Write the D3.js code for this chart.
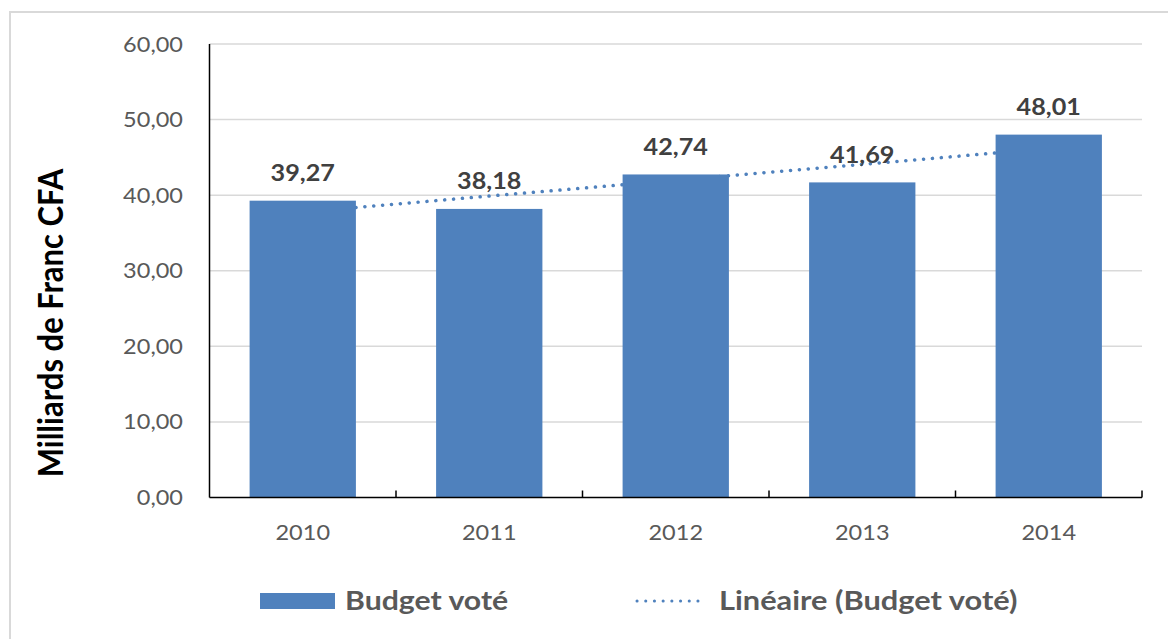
<!DOCTYPE html>
<html>
<head>
<meta charset="utf-8">
<script src="https://cdn.jsdelivr.net/npm/d3@7"></script>
<style>
  html, body { margin: 0; padding: 0; background: #ffffff; }
  svg { display: block; }
</style>
</head>
<body>
<svg id="chart" width="1168" height="639"></svg>
<script>
// Budget voté par année (milliards de F CFA)
const years = ["2010", "2011", "2012", "2013", "2014"];
const budget = [39.27, 38.18, 42.74, 41.69, 48.01];
const yTicks = [0, 10, 20, 30, 40, 50, 60];
const axisTitle = "Milliards de Franc CFA";
const legendLabels = ["Budget voté", "Linéaire (Budget voté)"];

const BLUE = "#4f81bd";
const FONT = "Lato, 'Open Sans', sans-serif";
const SX = 1.12; // horizontal widening of all text glyphs

const svg = d3.select("#chart");
const W = 1168, H = 639;
const plot = { left: 209.5, right: 1142, top: 44, bottom: 497.5 };

const fmt = v => d3.format(".2f")(v).replace(".", ",");

// place a text node at (x, y), widened horizontally
function put(sel, x, y, extra) {
  sel.attr("transform", `translate(${x},${y}) scale(${SX},1)` + (extra || ""));
  return sel;
}

// outer frame
svg.append("rect")
  .attr("x", 10).attr("y", 12)
  .attr("width", W + 20).attr("height", H + 20)
  .attr("fill", "none")
  .attr("stroke", "#d9d9d9")
  .attr("stroke-width", 2);

const x = d3.scaleBand()
  .domain(years)
  .range([plot.left, plot.right])
  .paddingInner(0.43)
  .paddingOuter(0.215);

const y = d3.scaleLinear()
  .domain([0, 60])
  .range([plot.bottom, plot.top]);

// horizontal gridlines
svg.append("g")
  .selectAll("line")
  .data(yTicks.filter(t => t > 0))
  .join("line")
  .attr("x1", plot.left).attr("x2", plot.right)
  .attr("y1", d => y(d)).attr("y2", d => y(d))
  .attr("stroke", "#d9d9d9")
  .attr("stroke-width", 1.5);

// y tick labels
svg.append("g")
  .selectAll("text")
  .data(yTicks)
  .join("text")
  .each(function (d) { put(d3.select(this), 183, y(d) + 7.5); })
  .attr("text-anchor", "end")
  .attr("font-family", FONT)
  .attr("font-size", 21)
  .attr("fill", "#595959")
  .text(d => fmt(d));

// linear trend (least squares on year index), drawn behind the bars
const idx = budget.map((_, i) => i);
const mx = d3.mean(idx), my = d3.mean(budget);
const slope = d3.sum(idx, i => (i - mx) * (budget[i] - my)) / d3.sum(idx, i => (i - mx) ** 2);
const intercept = my - slope * mx;
const xi = d3.scaleLinear()
  .domain([0, years.length - 1])
  .range([x(years[0]) + x.bandwidth() / 2, x(years[years.length - 1]) + x.bandwidth() / 2]);
const trend = d3.line()
  .x(i => xi(i))
  .y(i => y(intercept + slope * i));
svg.append("path")
  .datum([0, years.length - 1])
  .attr("d", trend)
  .attr("fill", "none")
  .attr("stroke", BLUE)
  .attr("stroke-width", 3.5)
  .attr("stroke-linecap", "round")
  .attr("stroke-dasharray", "0.1 8.8");

// bars
svg.append("g")
  .selectAll("rect")
  .data(budget)
  .join("rect")
  .attr("x", (d, i) => x(years[i]))
  .attr("y", d => y(d))
  .attr("width", x.bandwidth())
  .attr("height", d => y(0) - y(d))
  .attr("fill", BLUE);

// value labels
svg.append("g")
  .selectAll("text")
  .data(budget)
  .join("text")
  .each(function (d, i) {
    put(d3.select(this), x(years[i]) + x.bandwidth() / 2, y(d) - 19.5);
  })
  .attr("text-anchor", "middle")
  .attr("font-family", FONT)
  .attr("font-weight", 700)
  .attr("font-size", 22.5)
  .attr("fill", "#404040")
  .text(d => fmt(d));

// axes lines
svg.append("line")
  .attr("x1", plot.left).attr("x2", plot.left)
  .attr("y1", plot.top).attr("y2", plot.bottom)
  .attr("stroke", "#000").attr("stroke-width", 1.5);
svg.append("line")
  .attr("x1", plot.left).attr("x2", plot.right)
  .attr("y1", plot.bottom).attr("y2", plot.bottom)
  .attr("stroke", "#000").attr("stroke-width", 1.5);

// category separators (inside ticks)
const seps = years.map(d => x(d) - x.step() * x.paddingInner() / 2).slice(1).concat([plot.right]);
svg.append("g")
  .selectAll("line")
  .data(seps)
  .join("line")
  .attr("x1", d => d).attr("x2", d => d)
  .attr("y1", plot.bottom - 7).attr("y2", plot.bottom)
  .attr("stroke", "#000").attr("stroke-width", 1.5);

// category labels
svg.append("g")
  .selectAll("text")
  .data(years)
  .join("text")
  .each(function (d) { put(d3.select(this), x(d) + x.bandwidth() / 2, 540); })
  .attr("text-anchor", "middle")
  .attr("font-family", FONT)
  .attr("font-size", 21)
  .attr("fill", "#595959")
  .text(d => d);

// y axis title
put(svg.append("text"), 63, 323, " rotate(-90)")
  .attr("text-anchor", "middle")
  .attr("font-family", FONT)
  .attr("font-weight", 700)
  .attr("font-size", 31)
  .attr("fill", "#000")
  .text(axisTitle);

// legend
const lg = svg.append("g");
lg.append("rect")
  .attr("x", 260).attr("y", 593)
  .attr("width", 75).attr("height", 16)
  .attr("fill", BLUE);
put(lg.append("text"), 345, 610)
  .attr("font-family", FONT)
  .attr("font-weight", 700)
  .attr("font-size", 27)
  .attr("fill", "#595959")
  .text(legendLabels[0]);
lg.append("line")
  .attr("x1", 637).attr("x2", 706)
  .attr("y1", 601).attr("y2", 601)
  .attr("stroke", BLUE)
  .attr("stroke-width", 3)
  .attr("stroke-linecap", "round")
  .attr("stroke-dasharray", "0.1 8.6");
put(lg.append("text"), 719, 610)
  .attr("font-family", FONT)
  .attr("font-weight", 700)
  .attr("font-size", 27.5)
  .attr("fill", "#595959")
  .text(legendLabels[1]);
</script>
</body>
</html>
